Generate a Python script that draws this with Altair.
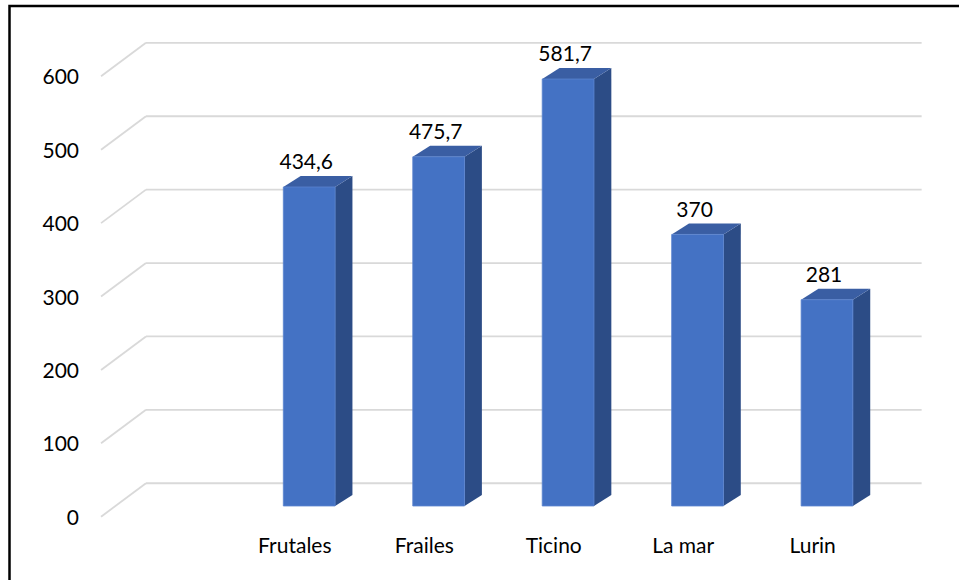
import altair as alt
import pandas as pd

# ---- data ----
categories = ["Frutales", "Frailes", "Ticino", "La mar", "Lurin"]
values = [434.6, 475.7, 581.7, 370, 281]
value_labels = ["434,6", "475,7", "581,7", "370", "281"]
y_ticks = [0, 100, 200, 300, 400, 500, 600]

# ---- pseudo-3D geometry (in data units) ----
HALF = 0.2          # half width of a bar face (category units)
SIDE_DU = 0.134     # bar depth, horizontal component
SIDE_DV = 15.0      # bar depth, vertical component
BACK_U0, BACK_U1, BACK_DV = -0.261, 5.731, 31.0   # back wall
FRONT_U, FRONT_DV = -0.608, -14.6                 # front edge of floor/grid
CAT_DU, CAT_V = -0.111, -64.0                     # category labels

FONT = "Lato"
xs = alt.Scale(domain=[-1.3886, 6.0197], nice=False, zero=False)
ys = alt.Scale(domain=[-100.82, 689.37], nice=False, zero=False)

pos = list(range(1, len(categories) + 1))
bars = pd.DataFrame({"cat": categories, "u": pos, "v": values, "lab": value_labels})
bars["x1"] = bars["u"] - HALF
bars["x2"] = bars["u"] + HALF
bars["base"] = 0.0
bars["lx"] = bars["u"]
bars["cx"] = bars["u"] + CAT_DU
bars["cy"] = CAT_V
bars["ly"] = bars["v"] + 24

side_rows, top_rows = [], []
for c, u, v in zip(categories, pos, values):
    side_rows.append({"cat": c, "x": u + HALF, "top": v, "bot": 0.0})
    side_rows.append({"cat": c, "x": u + HALF + SIDE_DU, "top": v + SIDE_DV, "bot": SIDE_DV})
    top_rows.append({"cat": c, "y": v, "xl": u - HALF, "xr": u + HALF})
    top_rows.append({"cat": c, "y": v + SIDE_DV, "xl": u - HALF + SIDE_DU, "xr": u + HALF + SIDE_DU})
side = pd.DataFrame(side_rows)
topf = pd.DataFrame(top_rows)

grid = pd.DataFrame({"g": y_ticks})
grid["bv"] = grid["g"] + BACK_DV
grid["fv"] = grid["g"] + FRONT_DV
grid["bu0"] = BACK_U0
grid["bu1"] = BACK_U1
grid["fu"] = FRONT_U
grid["lab"] = grid["g"].astype(str)

GRID_COL = "#D9D9D9"

back_lines = alt.Chart(grid).mark_rule(color=GRID_COL, strokeWidth=1.8).encode(
    x=alt.X("bu0:Q", scale=xs, axis=None),
    x2="bu1:Q",
    y=alt.Y("bv:Q", scale=ys, axis=None),
)
diag_lines = alt.Chart(grid).mark_rule(color=GRID_COL, strokeWidth=1.8).encode(
    x=alt.X("fu:Q", scale=xs, axis=None),
    x2="bu0:Q",
    y=alt.Y("fv:Q", scale=ys, axis=None),
    y2="bv:Q",
)
tick_text = alt.Chart(grid).mark_text(
    align="right", baseline="alphabetic", dx=-22, dy=8, fontSize=21, font=FONT, color="#000000"
).encode(
    x=alt.X("fu:Q", scale=xs, axis=None),
    y=alt.Y("fv:Q", scale=ys, axis=None),
    text="lab:N",
)

front = alt.Chart(bars).mark_rect(color="#4472C4", stroke="#5A84CF", strokeWidth=0.8).encode(
    x=alt.X("x1:Q", scale=xs, axis=None),
    x2="x2:Q",
    y=alt.Y("v:Q", scale=ys, axis=None),
    y2="base:Q",
)
side_face = alt.Chart(side).mark_area(color="#2C4C86", interpolate="linear").encode(
    x=alt.X("x:Q", scale=xs, axis=None),
    y=alt.Y("top:Q", scale=ys, axis=None),
    y2="bot:Q",
    detail="cat:N",
)
top_face = alt.Chart(topf).mark_area(color="#3A5EA3", orient="horizontal", interpolate="linear").encode(
    y=alt.Y("y:Q", scale=ys, axis=None),
    x=alt.X("xl:Q", scale=xs, axis=None),
    x2="xr:Q",
    detail="cat:N",
)
val_text = alt.Chart(bars).mark_text(
    align="center", baseline="alphabetic", dx=-3, fontSize=21, font=FONT, color="#000000"
).encode(
    x=alt.X("lx:Q", scale=xs, axis=None),
    y=alt.Y("ly:Q", scale=ys, axis=None),
    text="lab:N",
)
cat_text = alt.Chart(bars).mark_text(
    align="center", baseline="alphabetic", fontSize=21, font=FONT, color="#000000"
).encode(
    x=alt.X("cx:Q", scale=xs, axis=None),
    y=alt.Y("cy:Q", scale=ys, axis=None),
    text="cat:N",
)
frame = alt.Chart(pd.DataFrame({"k": [0]})).mark_rect(
    fill=None, stroke="#000000", strokeWidth=2.5
).encode(
    x=alt.value(9.5), x2=alt.value(1000), y=alt.value(6), y2=alt.value(640)
)

chart = alt.layer(
    back_lines, diag_lines, tick_text, side_face, top_face, front, val_text, cat_text, frame
).properties(
    width=959, height=580, padding=0,
    autosize=alt.AutoSizeParams(type="none"),
    background="#FFFFFF",
).configure_view(stroke=None)

chart.save("out.html", embed_options={"renderer": "svg", "actions": False})
